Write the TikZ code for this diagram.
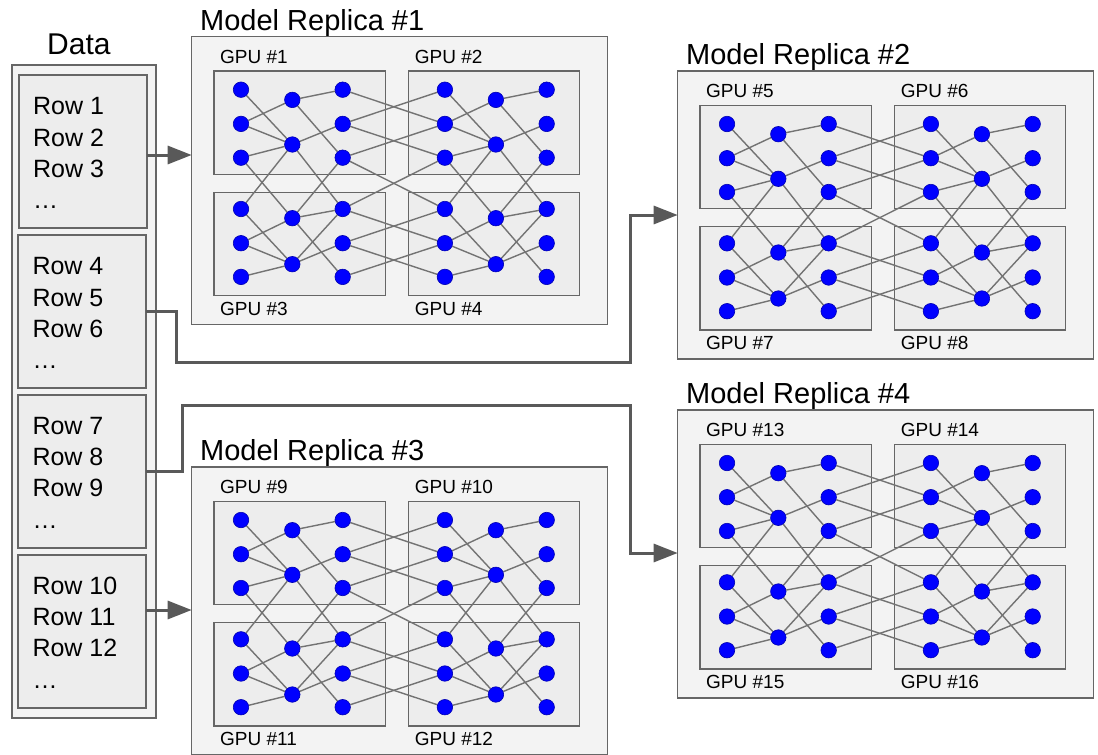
\documentclass[tikz,border=0pt]{standalone}
\usepackage{fontspec}
\setmainfont{Liberation Sans}
\usetikzlibrary{arrows.meta}
\pgfdeclarelayer{boxes}
\pgfdeclarelayer{wires}
\pgfsetlayers{boxes,wires,main}
\definecolor{edgegray}{HTML}{737373}
\definecolor{boxline}{HTML}{666666}
\definecolor{replfill}{HTML}{F3F3F3}
\definecolor{gpufill}{HTML}{EDEDED}
\definecolor{arrowgray}{HTML}{595959}
\definecolor{neuronblue}{HTML}{0000FF}
\tikzset{
 replicabox/.style={draw=boxline, fill=replfill, line width=1.2pt, minimum width=416pt, minimum height=288pt, anchor=north west, inner sep=0pt, outer sep=0pt},
 gpubox/.style={draw=boxline, fill=gpufill, line width=1.2pt, minimum width=171.5pt, minimum height=103.3pt, anchor=north west, inner sep=0pt, outer sep=0pt},
 dataouter/.style={draw=boxline, fill=replfill, line width=1.2pt, minimum width=144pt, minimum height=653pt, anchor=north west, inner sep=0pt, outer sep=0pt},
 datainner/.style={draw=boxline, fill=gpufill, line width=1.2pt, minimum width=128pt, minimum height=153pt, anchor=north west, inner sep=0pt, outer sep=0pt},
 neuron/.style={circle, fill=neuronblue, draw=neuronblue!70!black, line width=0.6pt, minimum size=15.5pt, inner sep=0pt},
 wire/.style={draw=edgegray, line width=1.4pt},
 titletext/.style={font=\fontsize{29}{34}\selectfont, anchor=base west, inner sep=0pt},
 gputext/.style={font=\fontsize{19}{23}\selectfont, anchor=base west, inner sep=0pt},
 rowtext/.style={font=\fontsize{25}{31.3}\selectfont, anchor=north west, inner sep=0pt, align=left},
 flow/.style={draw=arrowgray, line width=3pt, -{Triangle[length=24pt,width=18pt]}},
}
\newcommand\modelreplica[8]{%
\begin{scope}[shift={(#2,#3)}]
 \begin{pgfonlayer}{boxes}
  \node[replicabox] (#1) at (0,0) {};
  \node[gpubox] (#1g1) at (22.3,34.3) {};
  \node[gpubox] (#1g2) at (216.6,34.3) {};
  \node[gpubox] (#1g3) at (22.3,155.6) {};
  \node[gpubox] (#1g4) at (216.6,155.6) {};
 \end{pgfonlayer}
 \node[titletext] (#1t) at (8.3,-6.7) {Model Replica \##4};
 \node[gputext] (#1l1) at (28.3,26.6) {GPU \##5};
 \node[gputext] (#1l2) at (223,26.6) {GPU \##6};
 \node[gputext] (#1l3) at (28.3,278.3) {GPU \##7};
 \node[gputext] (#1l4) at (223,278.3) {GPU \##8};
 \foreach \col/\cx in {A/49.3,C/151,D/253.2,F/355}{
  \foreach \row/\ry in {1/53,2/87.2,3/121,4/172.3,5/206.5,6/240.2}{
   \node[neuron] (#1\col\row) at (\cx,\ry) {};}}
 \foreach \col/\cx in {B/100.6,E/304.2}{
  \foreach \row/\ry in {1/63.2,2/107.8,3/181.5,4/227.5}{
   \node[neuron] (#1\col\row) at (\cx,\ry) {};}}
 \begin{pgfonlayer}{wires}
  \foreach \u/\v in {A1/B2,A2/B1,A2/B2,A3/B2,A3/B3,A4/B2,A4/B4,A5/B3,A5/B4,A6/B4,
    B1/C1,B1/C3,B2/C2,B2/C4,B3/C3,B3/C4,B3/C6,B4/C4,B4/C5,
    D1/E2,D2/E1,D2/E2,D3/E2,D3/E3,D4/E2,D4/E4,D5/E3,D5/E4,D6/E4,
    E1/F1,E1/F3,E2/F2,E2/F4,E3/F3,E3/F4,E3/F6,E4/F4,E4/F5,
    C1/D2,C2/D1,C2/D3,C3/D2,C3/D4,C4/D3,C4/D5,C5/D4,C5/D6,C6/D5}{
   \draw[wire] (#1\u) -- (#1\v);}
 \end{pgfonlayer}
\end{scope}}
\begin{document}
\begin{tikzpicture}[x=1pt,y=-1pt]
\useasboundingbox (0,0) rectangle (1098,755);
% data column
\begin{pgfonlayer}{boxes}
 \node[dataouter] (dout) at (12,65) {};
 \node[datainner] (d1) at (19,75) {};
 \node[datainner] (d2) at (18,235) {};
 \node[datainner] (d3) at (18,395) {};
 \node[datainner] (d4) at (18,555) {};
\end{pgfonlayer}
\node[font=\fontsize{30}{36}\selectfont, anchor=base west, inner sep=0pt] (dtitle) at (47,54.3) {Data};
\node[rowtext] (t1) at (33,97.3) {Row 1\\Row 2\\Row 3\\…};
\node[rowtext] (t2) at (32.3,257.5) {Row 4\\Row 5\\Row 6\\…};
\node[rowtext] (t3) at (32.3,416.7) {Row 7\\Row 8\\Row 9\\…};
\node[rowtext] (t4) at (32.3,576.7) {Row 10\\Row 11\\Row 12\\…};
% replicas
\modelreplica{ra}{191.7}{36.7}{1}{1}{2}{3}{4}
\modelreplica{rb}{677.7}{71}{2}{5}{6}{7}{8}
\modelreplica{rc}{191.7}{467}{3}{9}{10}{11}{12}
\modelreplica{rd}{677.7}{410}{4}{13}{14}{15}{16}
% data flow arrows
\coordinate (a1) at ([yshift=-3.5pt]d1.east);
\draw[flow] (a1) -- (a1 -| ra.west);
\coordinate (k2a) at (176,362);
\coordinate (k2b) at (630,215);
\draw[flow] (d2.east) -| (k2a) -- (k2a -| k2b) -- (k2b) -- (k2b -| rb.west);
\coordinate (k3a) at (182,405);
\coordinate (k3b) at (630,553);
\draw[flow] (d3.east) -| (k3a) -- (k3a -| k3b) -- (k3b) -- (k3b -| rd.west);
\coordinate (a4) at ([yshift=21.5pt]d4.east);
\draw[flow] (a4) -- (a4 -| rc.west);
\end{tikzpicture}
\end{document}
